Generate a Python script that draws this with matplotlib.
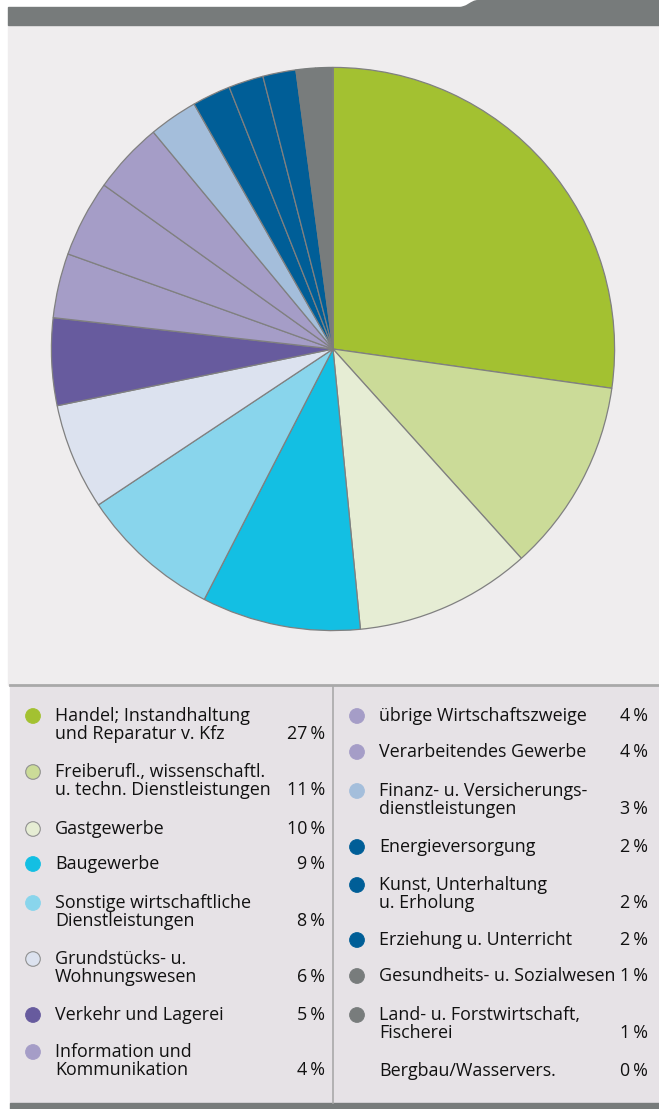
import matplotlib.pyplot as plt
from matplotlib.patches import Rectangle, Circle, PathPatch
from matplotlib.path import Path

# categories as shown in the legend (left column first, then right column)
labels = [
    "Handel; Instandhaltung\nund Reparatur v. Kfz",
    "Freiberufl., wissenschaftl.\nu. techn. Dienstleistungen",
    "Gastgewerbe",
    "Baugewerbe",
    "Sonstige wirtschaftliche\nDienstleistungen",
    "Grundstücks- u.\nWohnungswesen",
    "Verkehr und Lagerei",
    "Information und\nKommunikation",
    "übrige Wirtschaftszweige",
    "Verarbeitendes Gewerbe",
    "Finanz- u. Versicherungs-\ndienstleistungen",
    "Energieversorgung",
    "Kunst, Unterhaltung\nu. Erholung",
    "Erziehung u. Unterricht",
    "Gesundheits- u. Sozialwesen",
    "Land- u. Forstwirtschaft,\nFischerei",
    "Bergbau/Wasservers.",
]
# rounded percentages printed in the legend
percent = [27, 11, 10, 9, 8, 6, 5, 4, 4, 4, 3, 2, 2, 2, 1, 1, 0]
# slice shares (unrounded)
shares = [27.2, 11.1, 10.1, 9.1, 8.1, 6.1, 5.0, 3.7, 4.4, 4.1, 2.8, 2.2, 2.0, 1.9, 1.1, 1.0, 0.0]
colors = ["#a3c131", "#cbdb98", "#e6edd4", "#13bfe3", "#89d5ec", "#dce2ef",
          "#675b9e", "#a59dc7", "#a59dc7", "#a59dc7", "#a4bedb", "#005e97",
          "#005e97", "#005e97", "#787c7c", "#787c7c", None]

W, H = 659, 1109
fig = plt.figure(figsize=(W / 100, H / 100), dpi=100)
fig.patch.set_facecolor("white")

bg = fig.add_axes([0, 0, 1, 1])
bg.set_xlim(0, W)
bg.set_ylim(H, 0)
bg.axis("off")

# chart area and header bar with tab at the right
bg.add_patch(Rectangle((8, 25), W - 8, 660, color="#efedee", zorder=0))
bg.add_patch(Rectangle((8, 7), W - 8, 18, color="#777b7b", zorder=1))
tab = Path([(455, 7.5), (468, 7.5), (470, 0), (478, 0), (W, 0), (W, 8), (455, 8), (455, 7.5)],
           [Path.MOVETO, Path.CURVE4, Path.CURVE4, Path.CURVE4, Path.LINETO, Path.LINETO,
            Path.LINETO, Path.CLOSEPOLY])
bg.add_patch(PathPatch(tab, facecolor="#777b7b", edgecolor="none", zorder=1))
# legend panel
bg.add_patch(Rectangle((10, 685), W - 10, 418, color="#e6e2e6", zorder=0))
bg.plot([10, W], [685, 685], color="#a9a9a9", lw=2, zorder=2)
bg.plot([333, 333], [686, 1103], color="#a9a9a9", lw=1.2, zorder=2)
bg.add_patch(Rectangle((10, 1103), W - 10, 6, color="#777b7b", zorder=1))

# pie
cx, cy, r = 333, 349, 283
ax = fig.add_axes([(cx - r) / W, (H - cy - r) / H, 2 * r / W, 2 * r / H])
pie_colors = [c if c else "#ffffff" for c in colors]
wedges, _ = ax.pie(shares, colors=pie_colors, startangle=90, counterclock=False, radius=1,
                   wedgeprops=dict(edgecolor="#808080", linewidth=0.9))
for w, c in zip(wedges, colors):
    if c == "#787c7c":
        w.set_edgecolor(c)
ax.set_xlim(-1.005, 1.005)
ax.set_ylim(-1.005, 1.005)
ax.set_aspect("equal")

# legend
font = "Open Sans"
fs = 12.9
left_y = [716, 772, 829, 864, 903, 959, 1015, 1052]
right_y = [716, 752, 791, 847, 885, 940, 976, 1015, 1071]
line_h = 18.3
for i, lab in enumerate(labels):
    if i < 8:
        y = left_y[i]
        mx, tx, px = 33, 55, 325
    else:
        y = right_y[i - 8]
        mx, tx, px = 357, 379, 648
    lines = lab.split("\n")
    if colors[i]:
        edge = "#909090" if colors[i] in ("#e6edd4", "#dce2ef", "#cbdb98") else colors[i]
        bg.add_patch(Circle((mx, y), 7.3, facecolor=colors[i], edgecolor=edge, lw=0.8, zorder=3))
    for k, line in enumerate(lines):
        bg.text(tx, y + k * line_h, line, fontsize=fs, family=font, color="#111111",
                va="center", ha="left")
    bg.text(px, y + (len(lines) - 1) * line_h, f"{percent[i]}\u2009%", fontsize=fs,
            family=font, color="#111111", va="center", ha="right")

fig.savefig("out.png", dpi=100)
